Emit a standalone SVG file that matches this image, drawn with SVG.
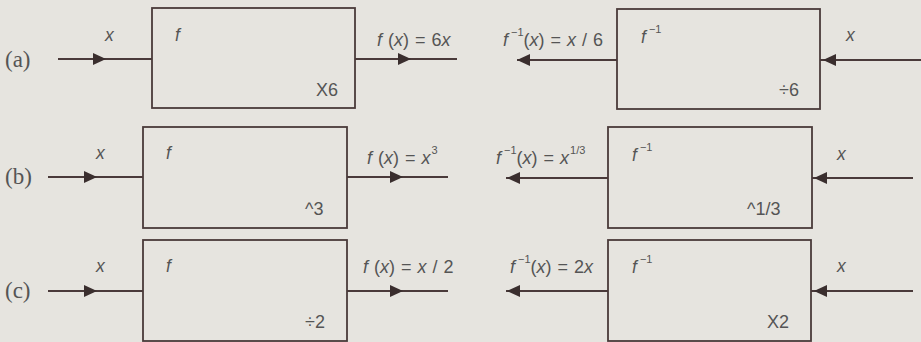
<svg xmlns="http://www.w3.org/2000/svg" width="921" height="342" viewBox="0 0 921 342">
<style>
.bg{fill:#e6e4df}
.box{fill:none;stroke:#4a3a3a;stroke-width:1.8}
.ln{stroke:#4a3a3a;stroke-width:1.8;fill:none}
.ah{fill:#3a2e2e}
.t{font-family:"Liberation Sans",Arial,sans-serif;font-size:17.5px;fill:#555}
.eq{font-size:18px;word-spacing:1px}
.op{font-size:18px}
.i{font-style:italic}
.s{font-size:11px}
.lab{font-family:"Liberation Serif","Times New Roman",serif;font-size:23px;fill:#555}
</style>
<rect class="bg" x="0" y="0" width="921" height="342"/>

<g id="connectors">
  <!-- row a -->
  <line class="ln" x1="58" y1="59" x2="152" y2="59"/>
  <polygon class="ah" points="93,53 106,59 93,65"/>
  <line class="ln" x1="355" y1="59" x2="457" y2="59"/>
  <polygon class="ah" points="398,53 411,59 398,65"/>
  <line class="ln" x1="517" y1="60" x2="617" y2="60"/>
  <polygon class="ah" points="530,54 517,60 530,66"/>
  <line class="ln" x1="820" y1="60" x2="921" y2="60"/>
  <polygon class="ah" points="836,54 823,60 836,66"/>
  <!-- row b -->
  <line class="ln" x1="48" y1="177" x2="143" y2="177"/>
  <polygon class="ah" points="84,171 97,177 84,183"/>
  <line class="ln" x1="347" y1="177" x2="448" y2="177"/>
  <polygon class="ah" points="390,171 403,177 390,183"/>
  <line class="ln" x1="506" y1="178" x2="608" y2="178"/>
  <polygon class="ah" points="520,172 507,178 520,184"/>
  <line class="ln" x1="812" y1="178" x2="913" y2="178"/>
  <polygon class="ah" points="827,172 814,178 827,184"/>
  <!-- row c -->
  <line class="ln" x1="48" y1="291" x2="143" y2="291"/>
  <polygon class="ah" points="84,285 97,291 84,297"/>
  <line class="ln" x1="347" y1="291" x2="448" y2="291"/>
  <polygon class="ah" points="390,285 403,291 390,297"/>
  <line class="ln" x1="506" y1="291" x2="608" y2="291"/>
  <polygon class="ah" points="520,285 507,291 520,297"/>
  <line class="ln" x1="811" y1="291" x2="913" y2="291"/>
  <polygon class="ah" points="827,285 814,291 827,297"/>
</g>

<g id="labels">
  <text class="lab" x="5" y="67">(a)</text>
  <text class="lab" x="5" y="184">(b)</text>
  <text class="lab" x="5" y="298">(c)</text>
</g>

<g id="a-f">
  <rect class="box" x="152" y="8" width="203" height="100"/>
  <text class="t i" x="175" y="41">f</text>
  <text class="t op" x="316" y="96">X6</text>
  <text class="t i" x="105" y="41">x</text>
  <text class="t eq" x="377" y="46"><tspan class="i">f</tspan> (<tspan class="i">x</tspan>) = 6<tspan class="i">x</tspan></text>
</g>
<g id="a-finv">
  <rect class="box" x="617" y="9" width="203" height="100"/>
  <text class="t i" x="641" y="43">f<tspan class="s" font-style="normal" dx="3" dy="-10">−1</tspan></text>
  <text class="t op" x="779" y="96">÷6</text>
  <text class="t i" x="846" y="41">x</text>
  <text class="t eq" x="503" y="46"><tspan class="i">f</tspan><tspan class="s" dx="3" dy="-10">−1</tspan><tspan dy="10">(</tspan><tspan class="i">x</tspan>) = <tspan class="i">x</tspan> / 6</text>
</g>

<g id="b-f">
  <rect class="box" x="143" y="127" width="204" height="101"/>
  <text class="t i" x="166" y="159">f</text>
  <text class="t op" x="305" y="215">^3</text>
  <text class="t i" x="96" y="159">x</text>
  <text class="t eq" x="367" y="164"><tspan class="i">f</tspan> (<tspan class="i">x</tspan>) = <tspan class="i">x</tspan><tspan class="s" dx="1" dy="-10">3</tspan></text>
</g>
<g id="b-finv">
  <rect class="box" x="608" y="127" width="204" height="101"/>
  <text class="t i" x="632" y="161">f<tspan class="s" font-style="normal" dx="3" dy="-10">−1</tspan></text>
  <text class="t op" x="747" y="215">^1/3</text>
  <text class="t i" x="837" y="160">x</text>
  <text class="t eq" x="496" y="164"><tspan class="i">f</tspan><tspan class="s" dx="3" dy="-10">−1</tspan><tspan dy="10">(</tspan><tspan class="i">x</tspan>) = <tspan class="i">x</tspan><tspan class="s" dx="1" dy="-10">1/3</tspan></text>
</g>

<g id="c-f">
  <rect class="box" x="143" y="240" width="204" height="101"/>
  <text class="t i" x="166" y="272">f</text>
  <text class="t op" x="305" y="328">÷2</text>
  <text class="t i" x="96" y="272">x</text>
  <text class="t eq" x="363" y="273"><tspan class="i">f</tspan> (<tspan class="i">x</tspan>) = <tspan class="i">x</tspan> / 2</text>
</g>
<g id="c-finv">
  <rect class="box" x="608" y="240" width="203" height="101"/>
  <text class="t i" x="632" y="273">f<tspan class="s" font-style="normal" dx="3" dy="-10">−1</tspan></text>
  <text class="t op" x="767" y="328">X2</text>
  <text class="t i" x="837" y="272">x</text>
  <text class="t eq" x="510" y="273"><tspan class="i">f</tspan><tspan class="s" dx="3" dy="-10">−1</tspan><tspan dy="10">(</tspan><tspan class="i">x</tspan>) = 2<tspan class="i">x</tspan></text>
</g>
</svg>
